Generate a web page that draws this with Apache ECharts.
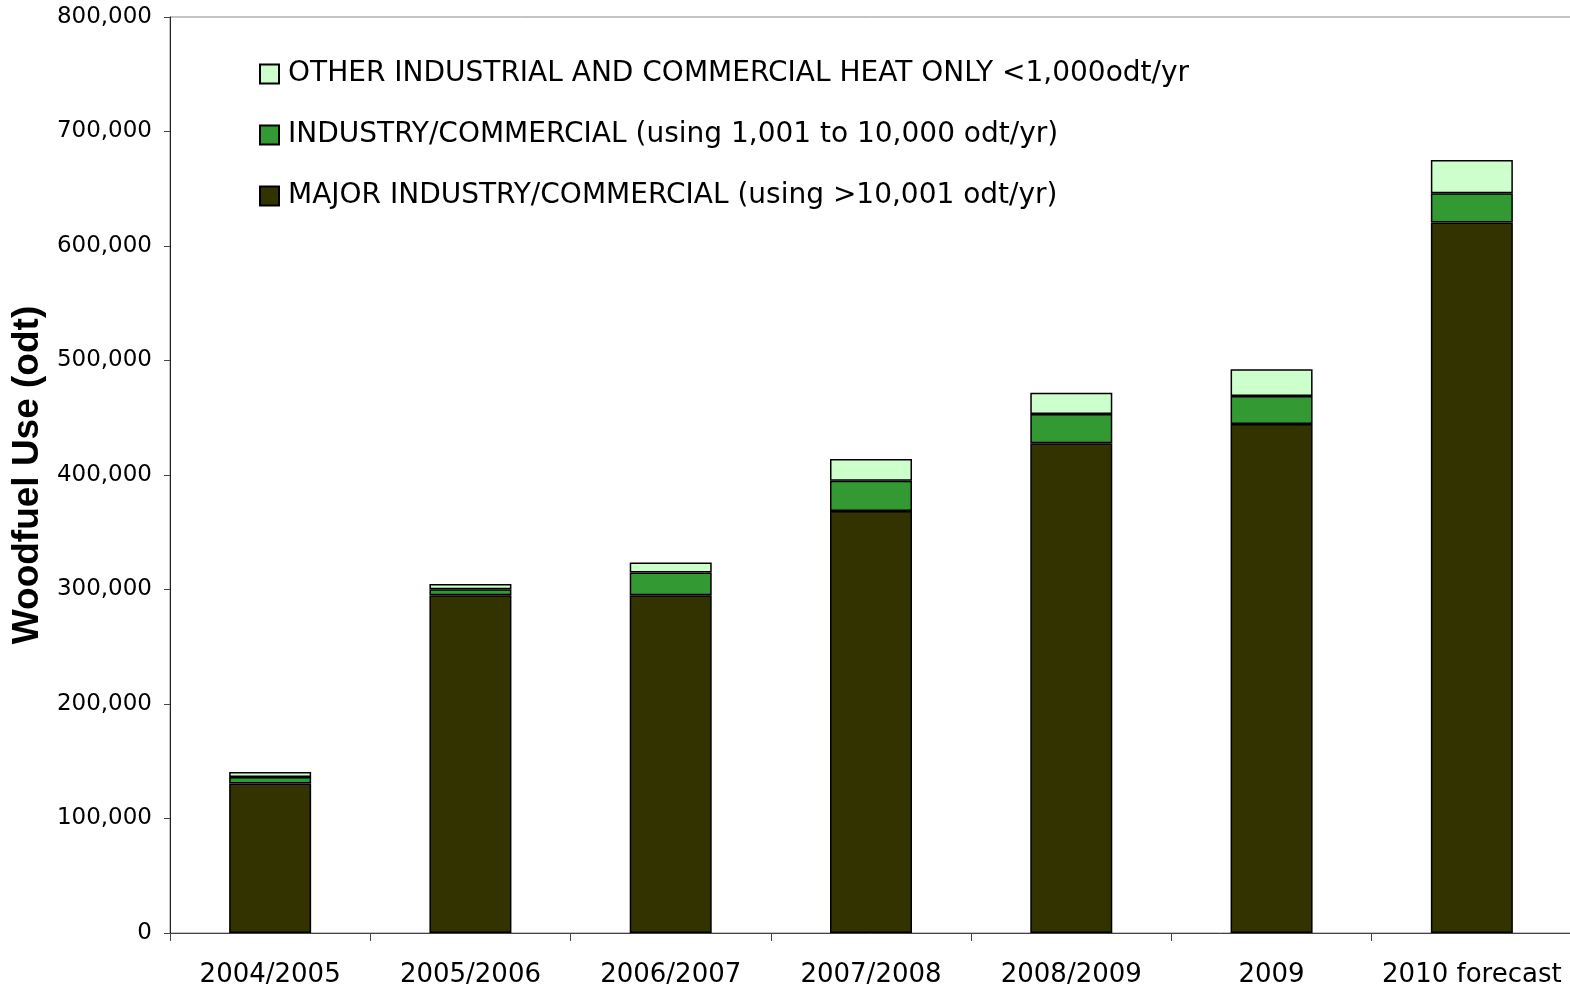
<!DOCTYPE html>
<html>
<head>
<meta charset="utf-8">
<script src="https://cdn.jsdelivr.net/npm/echarts@6/dist/echarts.min.js"></script>
<style>
html,body{margin:0;padding:0;background:#fff;}
#main{width:1570px;height:986px;}
</style>
</head>
<body>
<div id="main"></div>
<script>
var categories = ['2004/2005', '2005/2006', '2006/2007', '2007/2008', '2008/2009', '2009', '2010 forecast'];
// stacked layers, values in odt
var majorUse = [130500, 295000, 295000, 368500, 427700, 444500, 620500];
var industryUse = [5800, 5200, 19800, 26400, 25600, 24500, 25600];
var otherUse = [4400, 4600, 8700, 19000, 18600, 23300, 29000];
var seriesNames = [
	'MAJOR INDUSTRY/COMMERCIAL (using >10,001 odt/yr)',
	'INDUSTRY/COMMERCIAL (using 1,001 to 10,000 odt/yr)',
	'OTHER INDUSTRIAL AND COMMERCIAL HEAT ONLY <1,000odt/yr'
];

var myChart = echarts.init(document.getElementById('main'));
var font = 'DejaVu Sans';
var option = {
	animation: false,
	grid: {
		left: 170,
		top: 17,
		width: 1402,
		height: 916,
		outerBoundsMode: 'none',
		containLabel: false,
		show: true,
		borderColor: '#888',
		borderWidth: 1
	},
	legend: {
		orient: 'vertical',
		left: 254,
		top: 53,
		itemWidth: 19,
		itemHeight: 19,
		itemGap: 29,
		icon: 'rect',
		data: [seriesNames[2], seriesNames[1], seriesNames[0]],
		textStyle: {
			fontFamily: font,
			fontSize: 28,
			lineHeight: 32,
			color: '#000',
			padding: [0, 0, 0, 4]
		}
	},
	xAxis: {
		type: 'category',
		data: categories,
		axisLine: {lineStyle: {color: '#444', width: 1}},
		axisTick: {show: true, length: 8, lineStyle: {color: '#444'}},
		axisLabel: {
			fontFamily: font,
			fontSize: 26,
			color: '#000',
			margin: 29,
			interval: 0
		}
	},
	yAxis: {
		type: 'value',
		min: 0,
		max: 800000,
		interval: 100000,
		name: 'Woodfuel Use (odt)',
		nameLocation: 'middle',
		nameGap: 124,
		nameTextStyle: {
			fontFamily: 'Liberation Sans',
			fontWeight: 'bold',
			fontSize: 37,
			color: '#000'
		},
		axisLine: {show: true, lineStyle: {color: '#222', width: 1}},
		axisTick: {show: true, length: 6, lineStyle: {color: '#444'}},
		splitLine: {show: false},
		axisLabel: {
			fontFamily: font,
			fontSize: 23,
			color: '#000',
			margin: 18,
			formatter: function (v) {
				return v.toString().replace(/\B(?=(\d{3})+(?!\d))/g, ',');
			}
		}
	},
	series: [
		{
			name: seriesNames[0],
			type: 'bar',
			stack: 'use',
			barWidth: 82,
			itemStyle: {color: '#333300', borderColor: '#000', borderWidth: 1.5},
			data: majorUse
		},
		{
			name: seriesNames[1],
			type: 'bar',
			stack: 'use',
			itemStyle: {color: '#339933', borderColor: '#000', borderWidth: 1.5},
			data: industryUse
		},
		{
			name: seriesNames[2],
			type: 'bar',
			stack: 'use',
			itemStyle: {color: '#CCFFCC', borderColor: '#000', borderWidth: 1.5},
			data: otherUse
		}
	]
};
myChart.setOption(option);
</script>
</body>
</html>
